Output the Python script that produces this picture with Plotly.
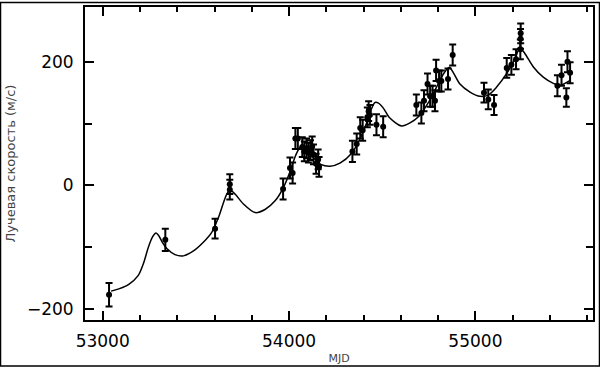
import plotly.graph_objects as go

# Observations (MJD, radial velocity m/s, error m/s)
obs_mjd = [53034, 53336, 53603, 53682, 53682, 53968, 54005, 54019, 54034, 54047,
           54071, 54082, 54094, 54104, 54115, 54124, 54131, 54145, 54156, 54161,
           54340, 54363, 54382, 54395, 54420, 54427, 54434, 54469, 54505,
           54683, 54710, 54724, 54743, 54757, 54770, 54783, 54789, 54805, 54817,
           54853, 54878, 55046, 55069, 55100, 55168, 55193, 55218, 55241, 55242,
           55243, 55440, 55462, 55488, 55494, 55508]
obs_rv = [-177, -88, -70, 2, -7, -6, 28, 20, 76, 76,
          62, 55, 60, 53, 57, 63, 50, 35, 42, 30,
          55, 67, 93, 89, 110, 120, 114, 98, 95,
          130, 117, 137, 164, 144, 144, 137, 186, 169, 169,
          172, 211, 150, 139, 130, 190, 195, 204, 220, 237,
          246, 161, 178, 142, 200, 182]
obs_err = [19, 18, 16, 16, 16, 17, 17, 17, 17, 17,
           16, 16, 16, 16, 16, 16, 16, 16, 16, 16,
           17, 17, 17, 17, 16, 16, 16, 17, 17,
           17, 17, 17, 17, 17, 17, 17, 17, 17, 17,
           17, 17, 16, 16, 16, 16, 16, 16, 16, 16,
           16, 17, 17, 15, 17, 17]

# Model curve
fit_mjd = [53045, 53090, 53140, 53190, 53220, 53245, 53268, 53286, 53300, 53320,
           53344, 53388, 53433, 53487, 53540, 53585, 53621, 53648, 53666, 53684,
           53710, 53755, 53818, 53871, 53925, 53969, 54005, 54032, 54055, 54068,
           54094, 54139, 54170, 54220, 54273, 54336, 54380, 54416, 54440, 54461,
           54480, 54506, 54541, 54604, 54649, 54694, 54750, 54790, 54830, 54860,
           54882, 54917, 54971, 55025, 55069, 55114, 55168, 55212, 55239, 55266,
           55310, 55364, 55418, 55454, 55508]
fit_rv = [-171, -167, -160, -146, -125, -100, -83, -77, -81, -92,
          -102, -112, -114, -106, -92, -76, -52, -28, -14, -8,
          -14, -30, -44, -39, -25, -4, 22, 46, 60, 64,
          57, 42, 34, 31, 36, 52, 75, 101, 122, 134,
          133, 125, 109, 96, 101, 111, 135, 158, 181, 191,
          182, 164, 151, 144, 146, 159, 181, 205, 222, 213,
          192, 175, 165, 162, 170]

x_ticks = [53000, 54000, 55000]
y_ticks = [-200, 0, 200]

fig = go.Figure()
fig.add_trace(go.Scatter(x=fit_mjd, y=fit_rv, mode="lines",
                         line=dict(color="black", width=1.5, shape="spline", smoothing=0.8),
                         hoverinfo="skip", showlegend=False))
fig.add_trace(go.Scatter(x=obs_mjd, y=obs_rv, mode="markers",
                         marker=dict(color="black", size=6),
                         error_y=dict(type="data", array=obs_err, visible=True,
                                      color="black", thickness=2, width=3.5),
                         showlegend=False))

axis_common = dict(showline=True, linecolor="black", linewidth=2, mirror="allticks",
                   ticks="inside", tickcolor="black", tickwidth=2, ticklen=9,
                   showgrid=False, zeroline=False,
                   tickfont=dict(family="DejaVu Sans", size=17, color="black"))

fig.update_layout(
    width=600, height=368,
    margin=dict(l=85, r=7, t=5, b=47),
    paper_bgcolor="white", plot_bgcolor="white",
    xaxis=dict(range=[52905, 55631], tickvals=x_ticks, ticktext=[str(v) for v in x_ticks],
               minor=dict(ticks="inside", dtick=200, tick0=53000, ticklen=5,
                          tickcolor="black", tickwidth=2),
               ticklabelstandoff=5,
               title=dict(text="MJD", standoff=4,
                          font=dict(family="DejaVu Sans", size=11, color="#444")),
               **axis_common),
    yaxis=dict(range=[-217.7, 288.5], tickvals=y_ticks, ticktext=["\u2212200", "0", "200"],
               minor=dict(ticks="inside", dtick=100, tick0=0, ticklen=7,
                          tickcolor="black", tickwidth=2),
               ticklabelstandoff=6,
               title=dict(text="Лучевая скорость (м/с)", standoff=8,
                          font=dict(family="DejaVu Sans", size=13, color="#444")),
               **axis_common),
    shapes=[dict(type="rect", xref="paper", yref="paper",
                 x0=-84.5 / 508, x1=1 + 6.5 / 508, y0=-46.5 / 316, y1=1 + 4.5 / 316,
                 line=dict(color="black", width=1.5), layer="above")],
)

fig.write_html("out.html", config={"displayModeBar": False},
               post_script="document.body.style.margin='0px';document.body.style.overflow='hidden';")
